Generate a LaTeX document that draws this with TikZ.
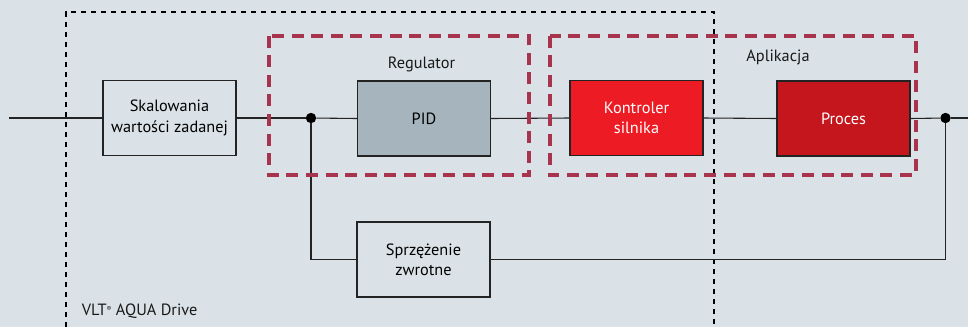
\documentclass[tikz,border=0pt]{standalone}
\usepackage{fontspec}
\setmainfont{PT Sans}
\usetikzlibrary{positioning}

\definecolor{bgblue}{RGB}{218,226,231}
\definecolor{pidgray}{RGB}{165,180,189}
\definecolor{ctrlred}{RGB}{237,28,36}
\definecolor{procred}{RGB}{196,22,28}
\definecolor{groupred}{RGB}{168,51,77}
\definecolor{linegray}{RGB}{35,35,35}

\tikzset{
    blockbox/.style={draw=linegray, line width=0.3mm, minimum width=33.25mm,
        minimum height=18.75mm, inner sep=0pt, align=center, font=\fontsize{11.6}{14.5}\selectfont},
    wire/.style={draw=linegray, line width=0.27mm},
    joint/.style={circle, fill=black, inner sep=0pt, minimum size=2.6mm},
    groupline/.style={draw=groupred, line width=1mm, dash pattern=on 3mm off 1.9mm},
    driveline/.style={draw=black, line width=0.4mm, dash pattern=on 1.3mm off 1.2mm},
    caption/.style={font=\fontsize{11.6}{14.5}\selectfont, text=black!90}
}

\begin{document}
\begin{tikzpicture}[x=0.25mm, y=-0.25mm]

    % ===== Background =====
    \fill[bgblue] (0, 0) rectangle (968, 327);
    \useasboundingbox (0, 0) rectangle (968, 327);

    % ===== VLT drive frame =====
    \draw[driveline] (66, 327) -- (66, 12) -- (714, 12) -- (714, 327);
    \node[caption, anchor=west] (drive) at (77, 311) {VLT\raisebox{0.45ex}{\tiny®} AQUA Drive};

    % ===== Blocks =====
    \node[blockbox] (skal) at (169.5, 118) {Skalowania\\wartości zadanej};
    \node[blockbox, fill=pidgray] (pid) at (424, 118.5) {PID};
    \node[blockbox, fill=ctrlred, text=white] (kontr) at (636.5, 118) {Kontroler\\silnika};
    \node[blockbox, fill=procred, text=white] (proc) at (843.5, 118.5) {Proces};
    \node[blockbox] (sprz) at (423.5, 259.5) {Sprzężenie\\zwrotne};

    % ===== Junctions =====
    \node[joint] (j1) at (311, 118) {};
    \node[joint] (j2) at (945.5, 118) {};
    \coordinate (in) at (9, 118);
    \coordinate (out) at (968, 118);

    % ===== Signal path =====
    \draw[wire] (in) -- (skal.west);
    \draw[wire] (skal.east) -- (j1);
    \draw[wire] (j1) -- (pid.west);
    \draw[wire] (pid.east) -- (kontr.west);
    \draw[wire] (kontr.east) -- (proc.west);
    \draw[wire] (proc.east) -- (j2);
    \draw[wire] (j2) -- (out);

    % feedback loop
    \draw[wire] (j1) |- (sprz.west);
    \draw[wire] (sprz.east) -| (j2);

    % ===== Groups =====
    \draw[groupline] (269, 35.5) rectangle (529, 175);
    \node[caption] (reg) at (421.5, 64) {Regulator};

    \draw[groupline] (549.5, 35.5) rectangle (915.5, 175);
    \node[caption] (apl) at (778, 57) {Aplikacja};

\end{tikzpicture}
\end{document}
